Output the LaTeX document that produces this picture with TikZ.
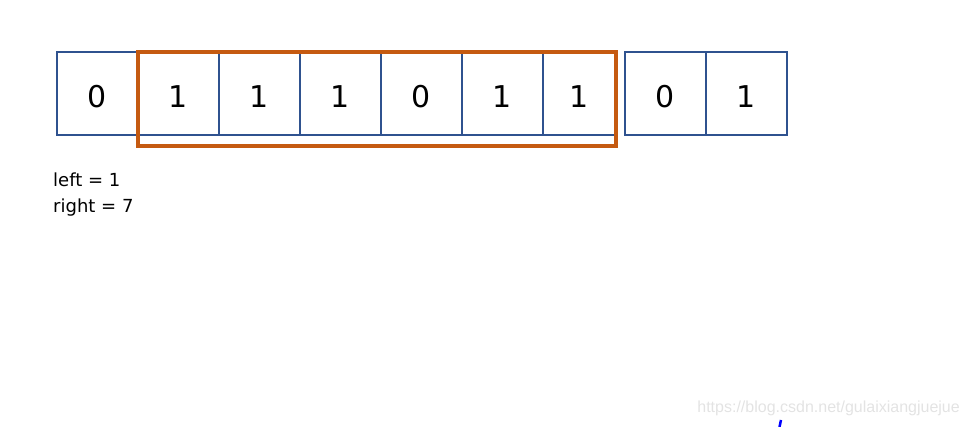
\documentclass[tikz,border=0pt]{standalone}
\usepackage{fontspec}
\setmainfont{DejaVu Sans}
\newfontfamily\wmfont{Liberation Sans}
\usepackage{tikz}
\usetikzlibrary{positioning}

\definecolor{cellblue}{HTML}{2F528F}
\definecolor{winorange}{HTML}{C55A11}

\begin{document}
\begin{tikzpicture}[x=1pt, y=-1pt,
  cell/.style={draw=cellblue, line width=2pt, outer sep=0pt, minimum width=81pt, minimum height=83pt, text height=28pt, text depth=0pt, font=\fontsize{30}{32}\selectfont},
  window/.style={draw=winorange, line width=3.5pt},
  label/.style={font=\fontsize{18}{20}\selectfont, anchor=base west, inner sep=0pt}]
\useasboundingbox (0,0) rectangle (970,427);
\node[cell] (C0) at (97.5,93.5) {0};
\node[cell, right=0pt of C0] (C1) {1};
\node[cell, right=0pt of C1] (C2) {1};
\node[cell, right=0pt of C2] (C3) {1};
\node[cell, right=0pt of C3] (C4) {0};
\node[cell, right=0pt of C4] (C5) {1};
\node[cell, minimum width=73pt, right=0pt of C5] (C6) {1};
\node[cell, right=9pt of C6] (C7) {0};
\node[cell, right=0pt of C7] (C8) {1};
\draw[window] (C1.north west) rectangle ([yshift=-11pt]C6.south east);
\node[label] (L) at (53,186.5) {left = 1};
\node[label] (R) at (53,213) {right = 7};
% watermark and stray mark
\node[font=\wmfont\fontsize{16}{18}\selectfont, text=gray!22, anchor=base east, inner sep=0pt] (W) at (960,413) {https://blog.csdn.net/gulaixiangjuejue};
\draw[blue, line width=2.5pt] (781,420) -- (779.5,427);
\end{tikzpicture}
\end{document}
